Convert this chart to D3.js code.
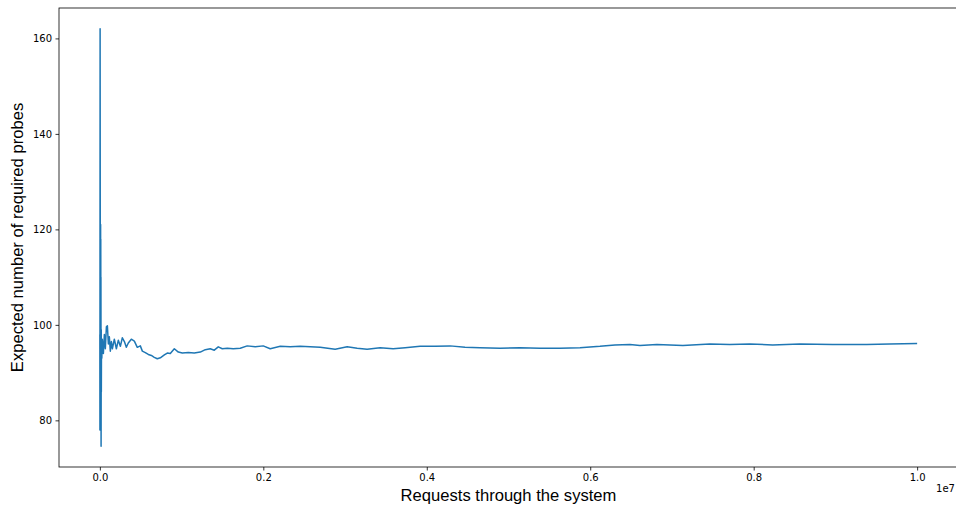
<!DOCTYPE html>
<html>
<head>
<meta charset="utf-8">
<script src="https://cdn.jsdelivr.net/npm/d3@7"></script>
<style>
  body { margin: 0; background: #fff; }
  .tick text { font-family: "DejaVu Sans", sans-serif; font-size: 10px; fill: #000; }
  .axislabel { font-family: "Liberation Sans", Arial, sans-serif; font-size: 16.6px; fill: #000; }
</style>
</head>
<body>
<div id="chart"></div>
<script>
var svgWidth = 956;
var svgHeight = 506;

var margin = { top: 8, right: -2, bottom: 39, left: 59 };

var chartWidth = svgWidth - margin.left - margin.right;
var chartHeight = svgHeight - margin.top - margin.bottom;

// requests through the system
var requests = [0, 1000, 3000, 6000, 9000, 10000, 11000, 12000, 13000, 15000, 17000, 18000,
  20000, 24000, 30000, 43000, 55000, 67000,
  80000, 92000, 104000, 116000, 128000, 141000, 153000, 177000, 202000, 226000, 251000,
  275000, 300000, 324000, 348000, 385000, 422000, 458000, 495000, 520000, 556000, 593000,
  630000, 666000, 703000, 740000, 789000, 825000, 862000, 911000, 960000, 1009000, 1082000,
  1155000, 1229000, 1290000, 1351000, 1400000, 1449000, 1498000, 1559000, 1632000, 1718000,
  1803000, 1901000, 1999000, 2084000, 2207000, 2329000, 2451000, 2573000, 2696000, 2879000,
  3026000, 3148000, 3270000, 3429000, 3588000, 3735000, 3918000, 4101000, 4285000, 4468000,
  4652000, 4897000, 5141000, 5386000, 5630000, 5875000, 6119000, 6303000, 6486000, 6608000,
  6816000, 7134000, 7463000, 7708000, 7952000, 8233000, 8563000, 8966000, 9382000, 9663000,
  10000000];

// expected number of required probes
var probes = [98, 78, 162, 92, 121, 97, 118, 94, 110, 74.6, 99, 86,
  97, 93, 97, 94, 98, 95,
  99.6, 99.8, 96, 97.5, 94.5, 96.5, 95, 97, 95, 96.8, 95.5,
  97.3, 96.5, 95.3, 96.2, 97, 96.6, 95.3, 95.6, 94.5, 94.2, 93.8,
  93.6, 93.2, 92.9, 93.1, 93.7, 94.1, 94.0, 95.0, 94.3, 94.1, 94.2,
  94.1, 94.3, 94.8, 95.0, 94.7, 95.4, 95.0, 95.1, 95.0, 95.1,
  95.6, 95.4, 95.6, 95.0, 95.5, 95.4, 95.5, 95.4, 95.3, 94.9,
  95.4, 95.1, 94.9, 95.2, 95.0, 95.2, 95.5, 95.5, 95.6, 95.3,
  95.2, 95.1, 95.2, 95.1, 95.1, 95.2, 95.5, 95.8, 95.9, 95.7,
  95.9, 95.7, 96.0, 95.9, 96.0, 95.8, 96.0, 95.9, 95.9, 96.0,
  96.1];

var xTicks = [0, 2000000, 4000000, 6000000, 8000000, 10000000];
var yTicks = [80, 100, 120, 140, 160];

var data = requests.map((r, i) => ({ x: r, y: probes[i] }));

var svg = d3.select("#chart")
  .append("svg")
  .attr("width", svgWidth)
  .attr("height", svgHeight);

var chartCanvass = svg.append("g")
  .attr("transform", `translate(${margin.left}, ${margin.top})`);

// matplotlib style 5% margins
var xExt = d3.extent(requests);
var xPad = (xExt[1] - xExt[0]) * 0.05;
var xScale = d3.scaleLinear()
  .domain([xExt[0] - xPad, xExt[1] + xPad])
  .range([0, chartWidth]);

var yExt = d3.extent(probes);
var yPad = (yExt[1] - yExt[0]) * 0.05;
var yScale = d3.scaleLinear()
  .domain([yExt[0] - yPad, yExt[1] + yPad])
  .range([chartHeight, 0]);

var xAxis = d3.axisBottom(xScale)
  .tickValues(xTicks)
  .tickSize(3.5)
  .tickPadding(3.5)
  .tickFormat(d => (d / 1e7).toFixed(1));

var yAxis = d3.axisLeft(yScale)
  .tickValues(yTicks)
  .tickSize(3.5)
  .tickPadding(3.5)
  .tickFormat(d3.format("d"));

var gx = chartCanvass.append("g")
  .attr("transform", `translate(0, ${chartHeight})`)
  .call(xAxis);

var gy = chartCanvass.append("g")
  .call(yAxis);

[gx, gy].forEach(g => {
  g.select(".domain").remove();
  g.selectAll(".tick line").attr("stroke", "#000").attr("stroke-width", 0.8);
});

// frame
chartCanvass.append("rect")
  .attr("x", 0)
  .attr("y", 0)
  .attr("width", chartWidth)
  .attr("height", chartHeight)
  .attr("fill", "none")
  .attr("stroke", "#000")
  .attr("stroke-width", 0.8);

// the line
var line = d3.line()
  .x(d => xScale(d.x))
  .y(d => yScale(d.y));

chartCanvass.append("path")
  .datum(data)
  .attr("fill", "none")
  .attr("stroke", "#1f77b4")
  .attr("stroke-width", 1.5)
  .attr("stroke-linejoin", "round")
  .attr("d", line);

// offset text
svg.append("text")
  .attr("x", 955)
  .attr("y", margin.top + chartHeight + 25)
  .attr("text-anchor", "end")
  .style("font-family", "DejaVu Sans, sans-serif")
  .style("font-size", "10px")
  .text("1e7");

// axis labels
svg.append("text")
  .attr("class", "axislabel")
  .attr("x", margin.left + chartWidth / 2)
  .attr("y", 501)
  .attr("text-anchor", "middle")
  .text("Requests through the system");

svg.append("text")
  .attr("class", "axislabel")
  .attr("transform", `translate(23, ${margin.top + chartHeight / 2}) rotate(-90)`)
  .attr("text-anchor", "middle")
  .text("Expected number of required probes");
</script>
</body>
</html>
